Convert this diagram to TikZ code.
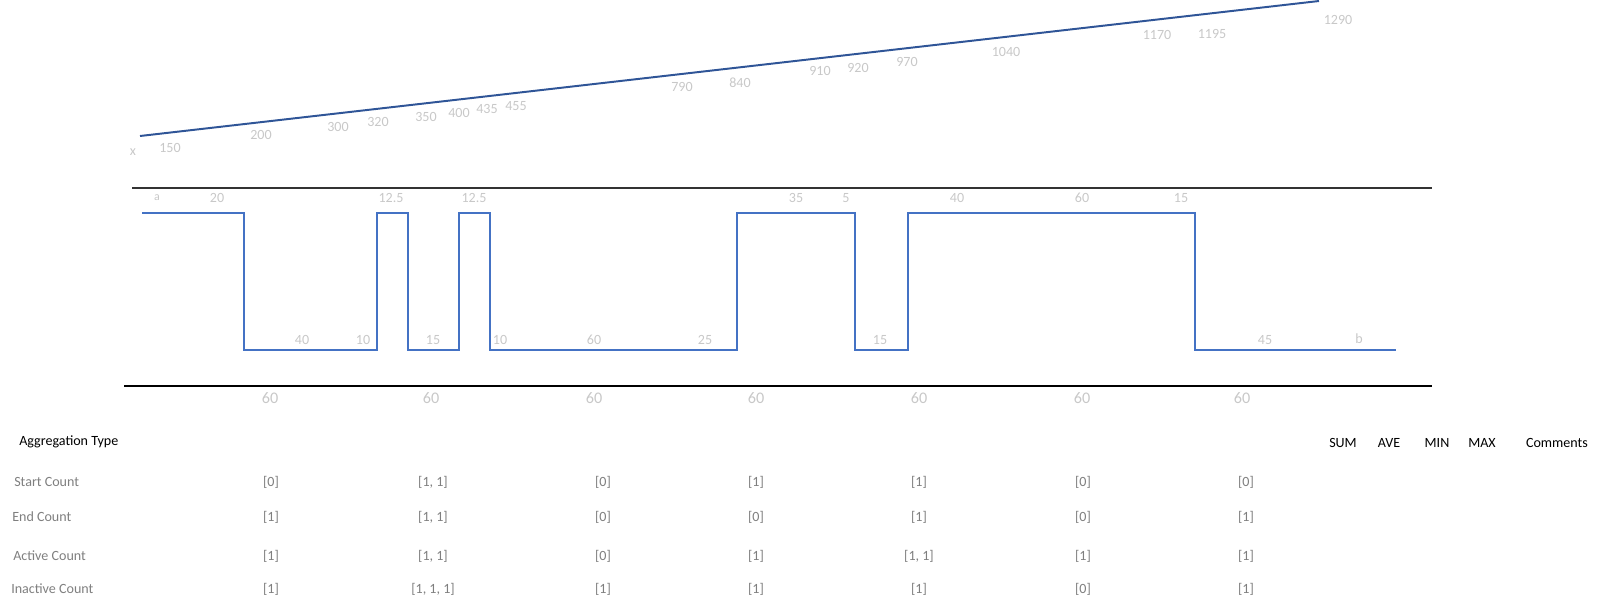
\documentclass[tikz,border=0pt]{standalone}
\usepackage{fontspec}
\setmainfont{Carlito}
\usepackage{xcolor}
\definecolor{recta}{HTML}{2F5597}
\definecolor{onda}{HTML}{4472C4}
\definecolor{grisclaro}{HTML}{C8C8C8}
\definecolor{grismedio}{HTML}{7F7F7F}
\definecolor{borde}{HTML}{333333}

\begin{document}
\begin{tikzpicture}[x=0.025cm,y=-0.025cm,
  etiq/.style={text=grisclaro,font=\fontsize{10}{12}\selectfont,inner sep=0pt},
  tramo/.style={text=grisclaro,font=\fontsize{11.5}{13}\selectfont,inner sep=0pt},
  valor/.style={text=grismedio,font=\fontsize{10}{12}\selectfont,inner sep=0pt},
  fila/.style={text=grismedio,font=\fontsize{10}{12}\selectfont,inner sep=0pt,anchor=west},
  cabecera/.style={text=black,font=\fontsize{10}{12}\selectfont,inner sep=0pt}]
  \useasboundingbox (0,0) rectangle (1600,607);
  % Recta superior
  \coordinate (r0) at (140,136);
  \coordinate (r1) at (1319,1);
  \draw[recta,line width=1.4pt] (r0) -- (r1);
  % Etiquetas de la recta
  \foreach \t/\px/\py [count=\i] in {x/133/152,150/170/148,200/261/135,300/338/127,
      320/378/122,350/426/117,400/459/113,435/487/109,455/516/106,790/682/87,
      840/740/83,910/820/71,920/858/68,970/907/62,1040/1006/52,1170/1157/35,
      1195/1212/34,1290/1338/20}
    \node[etiq] (e\i) at (\px,\py) {\t};
  % Lineas horizontales
  \coordinate (s0) at (132,188);
  \coordinate (s1) at (1432,188);
  \coordinate (i0) at (124,386);
  \coordinate (i1) at (1432,386);
  \draw[borde,line width=1.3pt] (s0) -- (s1);
  \draw[black,line width=1pt] (i0) -- (i1);
  % Onda cuadrada
  \coordinate (w0) at (142,213);
  \coordinate (w1) at (1396,350);
  \draw[onda,line width=0.9pt] (w0) -| (244,350) -| (377,213) -| (408,350)
    -| (459,213) -| (490,350) -| (737,213) -| (855,350) -| (908,213)
    -| (1195,350) -- (w1);
  % Etiquetas de la onda
  \node[etiq,font=\fontsize{8.5}{10}\selectfont] (a) at (157,198) {a};
  \foreach \t/\px [count=\i] in {20/217,12.5/391,12.5/474,35/796,5/846,40/957,60/1082,15/1181}
    \node[etiq] (h\i) at (\px,198) {\t};
  \foreach \t/\px [count=\i] in {40/302,10/363,15/433,10/500,60/594,25/705,15/880,45/1265}
    \node[etiq] (l\i) at (\px,340) {\t};
  \node[etiq] (b) at (1359,339) {b};
  % Intervalos de 60
  \foreach \px [count=\i] in {270,431,594,756,919,1082,1242}
    \node[tramo] (t\i) at (\px,398) {60};
  % Tabla
  \node[cabecera,anchor=west] (tipo) at (19,442) {Aggregation Type};
  \foreach \t/\px [count=\i] in {SUM/1343,AVE/1389,MIN/1437,MAX/1482,Comments/1557}
    \node[cabecera] (c\i) at (\px,443) {\t};
  \node[fila] (f1) at (14,482) {Start Count};
  \node[fila] (f2) at (12,517) {End Count};
  \node[fila] (f3) at (13,556) {Active Count};
  \node[fila] (f4) at (11,589) {Inactive Count};
  \foreach \v/\px [count=\i] in {{[0]}/271,{[1, 1]}/433,{[0]}/603,{[1]}/756,{[1]}/919,{[0]}/1083,{[0]}/1246}
    \node[valor] (v1\i) at (\px,482) {\v};
  \foreach \v/\px [count=\i] in {{[1]}/271,{[1, 1]}/433,{[0]}/603,{[0]}/756,{[1]}/919,{[0]}/1083,{[1]}/1246}
    \node[valor] (v2\i) at (\px,517) {\v};
  \foreach \v/\px [count=\i] in {{[1]}/271,{[1, 1]}/433,{[0]}/603,{[1]}/756,{[1, 1]}/919,{[1]}/1083,{[1]}/1246}
    \node[valor] (v3\i) at (\px,556) {\v};
  \foreach \v/\px [count=\i] in {{[1]}/271,{[1, 1, 1]}/433,{[1]}/603,{[1]}/756,{[1]}/919,{[0]}/1083,{[1]}/1246}
    \node[valor] (v4\i) at (\px,589) {\v};
\end{tikzpicture}
\end{document}
